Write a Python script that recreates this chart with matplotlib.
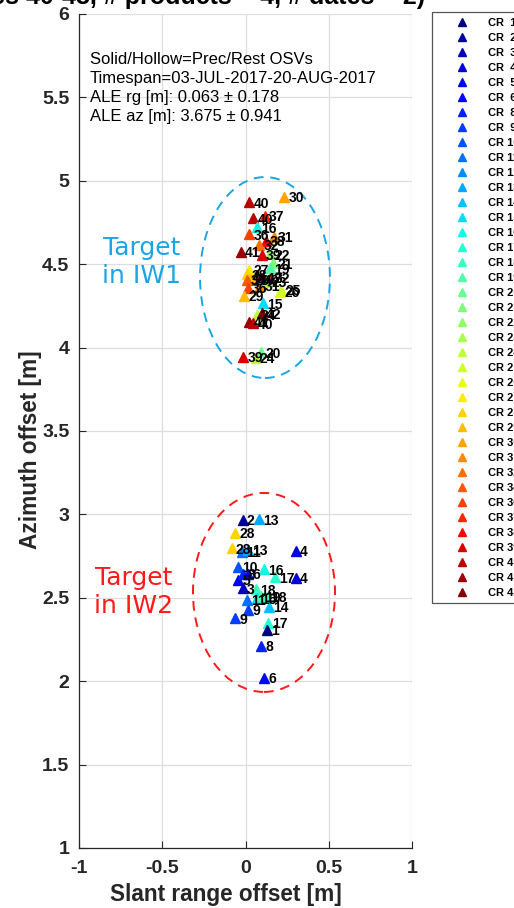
import numpy as np
import matplotlib
matplotlib.use("Agg")
import matplotlib.pyplot as plt
from matplotlib.lines import Line2D
from matplotlib.patches import Ellipse

plt.rcParams["font.family"] = ["Liberation Sans", "DejaVu Sans"]

# corner reflector ids shown in the legend (jet colours in this order)
cr_ids = [1, 2, 3, 4, 5, 6, 8, 9, 10, 11, 12, 13, 14, 15, 16, 17, 18, 19, 20,
          21, 22, 23, 24, 25, 26, 27, 28, 29, 30, 31, 32, 34, 36, 37, 38, 39,
          40, 41, 42]

# targets in IW1 (upper group)
iw1_cr = [40, 30, 40, 37, 16, 36, 38, 31, 41, 32, 22, 39, 27, 21, 19, 28,
          29, 34, 40, 42, 32, 23, 36, 31, 29, 26, 25, 15, 24, 42, 41, 40,
          20, 39, 24]
iw1_rg = [0.023, 0.233, 0.047, 0.117, 0.067, 0.023, 0.123, 0.170, -0.030,
          0.083, 0.147, 0.097, 0.023, 0.167, 0.147, 0.008, 0.030, 0.008,
          0.083, 0.100, 0.150, 0.130, 0.013, 0.090, -0.009, 0.207, 0.215,
          0.107, 0.067, 0.097, 0.023, 0.047, 0.093, -0.013, 0.060]
iw1_az = [4.870, 4.905, 4.775, 4.790, 4.720, 4.680, 4.640, 4.665, 4.575,
          4.615, 4.560, 4.555, 4.465, 4.505, 4.475, 4.440, 4.410, 4.405,
          4.405, 4.420, 4.420, 4.395, 4.360, 4.370, 4.310, 4.335, 4.345,
          4.265, 4.195, 4.205, 4.155, 4.145, 3.972, 3.945, 3.940]

# targets in IW2 (lower group)
iw2_cr = [2, 13, 28, 28, 11, 13, 4, 10, 16, 17, 4, 5, 8, 6, 3, 18, 15, 19,
          18, 11, 14, 9, 9, 17, 1, 8, 6]
iw2_rg = [-0.017, 0.081, -0.063, -0.083, -0.023, 0.017, 0.303, -0.043, 0.111,
          0.177, 0.303, -0.043, -0.013, 0.017, -0.017, 0.063, 0.067, 0.095,
          0.130, 0.007, 0.143, 0.017, -0.063, 0.137, 0.127, 0.093, 0.111]
iw2_az = [2.967, 2.971, 2.890, 2.797, 2.777, 2.787, 2.783, 2.687, 2.671,
          2.623, 2.620, 2.607, 2.643, 2.643, 2.557, 2.550, 2.497, 2.510,
          2.505, 2.487, 2.447, 2.427, 2.377, 2.351, 2.307, 2.213, 2.021]

info_lines = ["Solid/Hollow=Prec/Rest OSVs",
              "Timespan=03-JUL-2017-20-AUG-2017",
              "ALE rg [m]: 0.063 \u00b1 0.178",
              "ALE az [m]: 3.675 \u00b1 0.941"]

colors = plt.cm.jet(np.linspace(0, 1, len(cr_ids)))
cr_color = {c: colors[i] for i, c in enumerate(cr_ids)}

fig = plt.figure(figsize=(5.14, 9.08), dpi=100)
ax = fig.add_axes([0.1537, 0.0661, 0.6479, 0.9185])

for crs, rg, az in [(iw1_cr, iw1_rg, iw1_az), (iw2_cr, iw2_rg, iw2_az)]:
    for c, x, y in zip(crs, rg, az):
        ax.plot(x, y, "^", color=cr_color[c], ms=7, mec=cr_color[c], zorder=3)
        ax.annotate(str(c), (x, y), xytext=(3, -1), textcoords="offset points",
                    ha="left", va="center", fontsize=10, fontweight="bold",
                    color="black", zorder=4)

# dashed ellipses around both target groups
ax.add_patch(Ellipse((0.117, 4.42), 0.78, 1.205, fill=False, ec="#1aa6e6",
                     lw=1.4, ls=(0, (5, 3.5)), zorder=2))
ax.add_patch(Ellipse((0.111, 2.532), 0.853, 1.193, fill=False, ec="#ff1a1a",
                     lw=1.4, ls=(0, (5, 3.5)), zorder=2))

ax.text(-0.622, 4.515, "Target\nin IW1", color="#1aa6e6", fontsize=18,
        family="DejaVu Sans", ha="center", va="center", linespacing=1.22)
ax.text(-0.673, 2.537, "Target\nin IW2", color="#ff1a1a", fontsize=18,
        family="DejaVu Sans", ha="center", va="center", linespacing=1.22)

ax.text(-0.935, 5.556, "\n".join(info_lines), fontsize=12, va="center",
        ha="left", linespacing=1.33, color="black")

ax.set_xlim(-1, 1)
ax.set_ylim(1, 6)
ax.set_xticks(np.arange(-1, 1.01, 0.5))
ax.set_yticks(np.arange(1, 6.01, 0.5))
ax.set_xticklabels(["-1", "-0.5", "0", "0.5", "1"])
ax.set_yticklabels(["1", "1.5", "2", "2.5", "3", "3.5", "4", "4.5", "5",
                    "5.5", "6"])
ax.tick_params(direction="in", length=5, width=0.8, colors="#262626",
               labelsize=14)
ax.tick_params(axis="x", pad=9)
ax.tick_params(axis="y", pad=7)
for lab in ax.get_xticklabels() + ax.get_yticklabels():
    lab.set_fontweight("bold")
ax.grid(True, color="#dedede", lw=0.9)
ax.set_axisbelow(True)
for s in ["top", "right"]:
    ax.spines[s].set_visible(False)
for s in ["left", "bottom"]:
    ax.spines[s].set_color("#262626")
    ax.spines[s].set_linewidth(0.9)

ax.set_xlabel("Slant range offset [m]", fontsize=16.3, fontweight="bold",
              color="#262626")
ax.set_ylabel("Azimuth offset [m]", fontsize=16.3, fontweight="bold",
              color="#262626")
ax.xaxis.set_label_coords(0.441, -0.042)
ax.yaxis.set_label_coords(-0.11, 0.478)

fig.text(425 / 514, 1 - 4 / 908,
         "(CR Sites 40-48, # products = 4, # dates = 2)",
         fontsize=18, fontweight="bold", ha="right", va="baseline")

handles = [Line2D([], [], ls="none", marker="^", ms=6, color=cr_color[c])
           for c in cr_ids]
labels = ["CR %2d" % c for c in cr_ids]
leg = fig.legend(handles, labels, loc="upper left",
                 bbox_to_anchor=(432 / 514, 1 - 12 / 908),
                 prop={"size": 8, "weight": "bold"}, labelspacing=0.45,
                 handlelength=4.4, handletextpad=0.1, borderpad=0.5,
                 borderaxespad=0, fancybox=False, framealpha=1,
                 edgecolor="#555555")
leg.get_frame().set_linewidth(0.9)

fig.savefig("out.png", dpi=100)
